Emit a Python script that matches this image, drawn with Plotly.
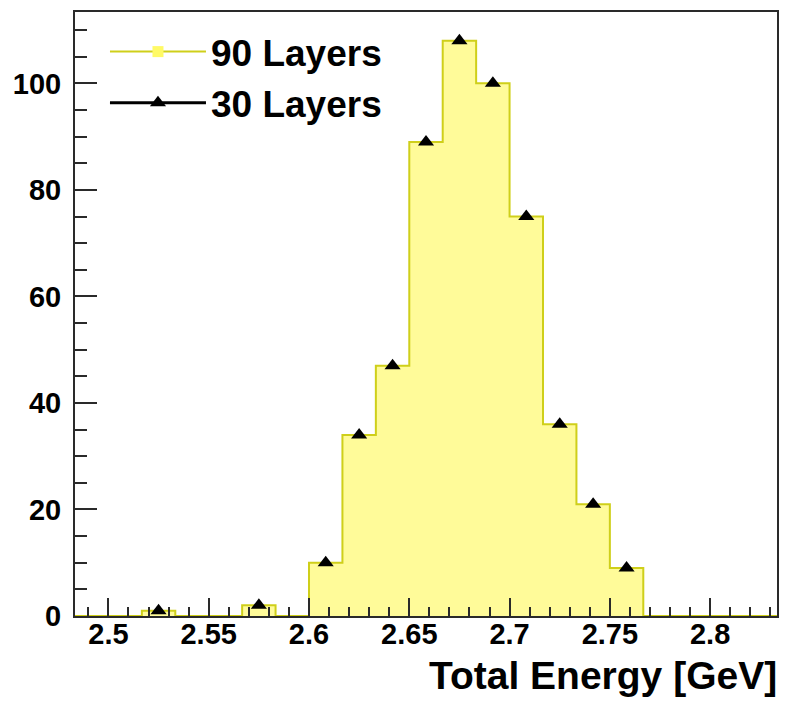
import plotly.graph_objects as go

# Histogram binning: 21 bins of width 1/60 GeV
x_low = 2.5 - 1 / 60
bin_width = 1 / 60
n_bins = 21

# Bin contents (events per bin)
counts_90 = [0, 0, 1, 0, 0, 2, 0, 10, 34, 47, 89, 108, 100, 75, 36, 21, 9, 0, 0, 0, 0]
counts_30 = [0, 0, 1, 0, 0, 2, 0, 10, 34, 47, 89, 108, 100, 75, 36, 21, 9, 0, 0, 0, 0]

labels = ["90 Layers", "30 Layers"]
x_ticks = [2.5, 2.55, 2.6, 2.65, 2.7, 2.75, 2.8]
y_ticks = [0, 20, 40, 60, 80, 100]

edges = [x_low + i * bin_width for i in range(n_bins + 1)]
centers = [x_low + (i + 0.5) * bin_width for i in range(n_bins)]
x_high = edges[-1]
y_max = 1.05 * max(counts_90)

FILL = "#FFFB99"
EDGE = "#CFCF1A"
FONT = "Liberation Sans"

fig = go.Figure()

# 90 Layers: filled step histogram
fig.add_trace(go.Scatter(
    x=edges, y=counts_90 + [counts_90[-1]],
    mode="lines", line=dict(shape="hv", color=EDGE, width=2),
    fill="tozeroy", fillcolor=FILL, showlegend=False, hoverinfo="skip",
))

# 30 Layers: markers on non-empty bins
pts = [(c, v) for c, v in zip(centers, counts_30) if v > 0]
fig.add_trace(go.Scatter(
    x=[p[0] for p in pts], y=[p[1] for p in pts],
    mode="markers",
    marker=dict(symbol="triangle-up", size=14, color="black"),
    showlegend=False,
))

# Legend entries
fig.add_trace(go.Scatter(
    x=[None], y=[None], name=labels[0], mode="lines+markers",
    line=dict(color=EDGE, width=2),
    marker=dict(symbol="square", size=11, color="#FFFA66"),
))
fig.add_trace(go.Scatter(
    x=[None], y=[None], name=labels[1], mode="lines+markers",
    line=dict(color="black", width=3),
    marker=dict(symbol="triangle-up", size=14, color="black"),
))

axis_common = dict(
    showline=True, linecolor="#2a2a2a", linewidth=2, mirror=True,
    ticks="inside", tickcolor="#2a2a2a", tickwidth=2,
    showgrid=False, zeroline=False, layer="above traces",
    tickfont=dict(family=FONT, size=29, color="black", weight="bold"),
)

fig.update_layout(
    width=789, height=702,
    margin=dict(l=75, r=11, t=10, b=86),
    paper_bgcolor="white", plot_bgcolor="white",
    font=dict(family=FONT, color="black"),
    xaxis=dict(
        range=[x_low, x_high], tickvals=x_ticks,
        ticktext=[f"{v:g}" for v in x_ticks], ticklen=18,
        ticklabelstandoff=-9,
        minor=dict(dtick=0.01, tick0=2.5, ticks="inside", ticklen=9,
                   tickcolor="#2a2a2a", tickwidth=2),
        **axis_common,
    ),
    yaxis=dict(
        range=[0, y_max], tickvals=y_ticks, ticklen=22,
        ticklabelstandoff=6,
        minor=dict(dtick=5, tick0=0, ticks="inside", ticklen=12,
                   tickcolor="#2a2a2a", tickwidth=2),
        **axis_common,
    ),
    legend=dict(
        x=0.0427, y=0.985, xanchor="left", yanchor="top",
        bgcolor="rgba(0,0,0,0)", itemwidth=96, tracegroupgap=0,
        font=dict(family=FONT, size=37, color="black", weight="bold"),
    ),
    annotations=[dict(
        text="Total Energy [GeV]", xref="paper", yref="paper",
        x=1.0, y=0, xanchor="right", yanchor="top", yshift=-36, xshift=2,
        showarrow=False,
        font=dict(family=FONT, size=39, color="black", weight="bold"),
    )],
)

fig.write_html("out.html")
